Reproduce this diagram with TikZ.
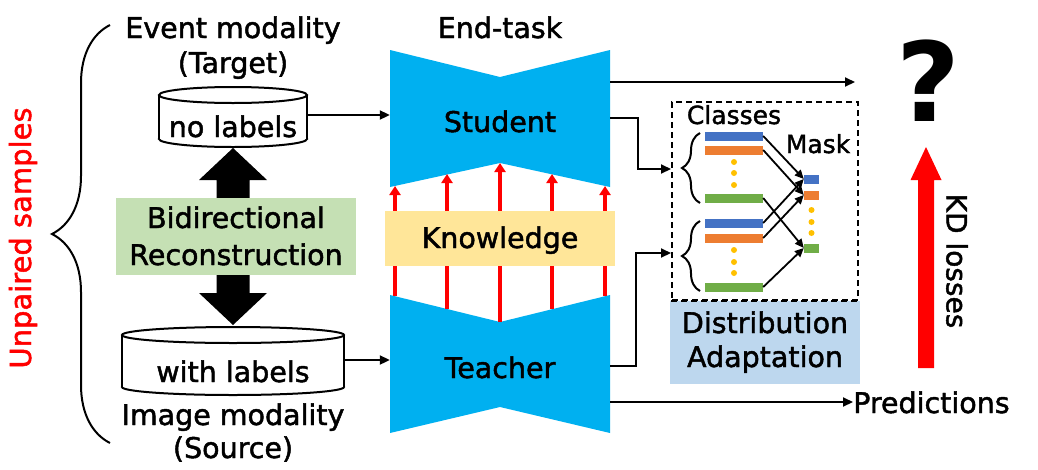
\documentclass[tikz,border=0pt]{standalone}
\usepackage{fontspec}
\setmainfont{DejaVu Sans}[FakeBold=1.6]
\newfontfamily\qfont{DejaVu Sans Bold}
\usetikzlibrary{arrows.meta,decorations.pathreplacing}
\definecolor{netblue}{HTML}{00B0F0}
\definecolor{boxgreen}{HTML}{C5E0B4}
\definecolor{boxyellow}{HTML}{FFE699}
\definecolor{boxblue}{HTML}{BDD7EE}
\definecolor{barblue}{HTML}{4472C4}
\definecolor{barorange}{HTML}{ED7D31}
\definecolor{bargreen}{HTML}{70AD47}
\definecolor{dotyellow}{HTML}{FFC000}
\definecolor{kdred}{HTML}{FF0000}
\begin{document}
\begin{tikzpicture}[x=1pt,y=-1pt,
  txt/.style={font=\fontsize{28.5}{36}\selectfont, anchor=base, inner sep=0pt},
  smalltxt/.style={font=\fontsize{25}{30}\selectfont, anchor=base, inner sep=0pt},
  conn/.style={line width=2pt, -{Triangle[length=10pt,width=9pt]}},
  thin/.style={line width=1.8pt, -{Triangle[length=9pt,width=8pt]}},
  knowarrow/.style={draw=kdred, line width=4pt, -{Triangle[length=9pt,width=11pt]}},
  cylline/.style={draw=black, line width=2pt, fill=white},
  bar/.style={inner sep=0pt, minimum height=9pt},
  dot/.style={circle, fill=dotyellow, inner sep=0pt, minimum size=6pt},
  hidden/.style={inner sep=0pt}]
\useasboundingbox (0,0) rectangle (1038,469);

% ---------- left brace and Unpaired samples ----------
\draw[line width=2pt, decorate, decoration={brace, amplitude=58pt}] (110,443) -- (110,25);
\node[font=\fontsize{29}{32}\selectfont, text=kdred, rotate=90, inner sep=0pt] (unp) at (23,238) {Unpaired samples};

% ---------- target cylinder ----------
\node[txt] (evt) at (233,38) {Event modality};
\node[txt] (tgt) at (233,73) {(Target)};
\draw[cylline] (233,139) ellipse [x radius=74, y radius=8];
\fill[white] (159,95) rectangle (307,139);
\draw[line width=2pt] (159,95) -- (159,139) (307,95) -- (307,139);
\draw[cylline] (233,95) ellipse [x radius=74, y radius=8];
\node[hidden, minimum width=148pt, minimum height=60pt] (cylT) at (233,117) {};
\node[txt] (nolab) at (233,137) {no labels};

% ---------- source cylinder ----------
\draw[cylline] (233,387) ellipse [x radius=111, y radius=8];
\fill[white] (122,335) rectangle (344,387);
\draw[line width=2pt] (122,335) -- (122,387) (344,335) -- (344,387);
\draw[cylline] (233,335) ellipse [x radius=111, y radius=8];
\node[hidden, minimum width=222pt, minimum height=68pt] (cylS) at (233,361) {};
\node[txt] (wlab) at (233,382) {with labels};
\node[txt] (img) at (233,425) {Image modality};
\node[txt] (src) at (233,458) {(Source)};

% ---------- bidirectional arrows ----------
\fill[black] (233,148) -- (267,180) -- (249.5,180) -- (249.5,200) -- (216.5,200) -- (216.5,180) -- (199,180) -- cycle;
\fill[black] (233,325) -- (267,293) -- (249.5,293) -- (249.5,273) -- (216.5,273) -- (216.5,293) -- (199,293) -- cycle;
\node[fill=boxgreen, minimum width=240pt, minimum height=77pt, inner sep=0pt] (bidir) at (236,236.5) {};
\node[txt] (bid1) at (236,228) {Bidirectional};
\node[txt] (bid2) at (236,265) {Reconstruction};

% ---------- student / teacher ----------
\node[txt] (endtask) at (500,38) {End-task};
\fill[netblue] (390,50) -- (500,77) -- (610,50) -- (610,187) -- (500,163) -- (390,187) -- cycle;
\fill[netblue] (390,295) -- (500,322) -- (610,295) -- (610,433) -- (500,407) -- (390,433) -- cycle;
\node[hidden, minimum width=220pt, minimum height=137pt] (stu) at (500,118.5) {};
\node[hidden, minimum width=220pt, minimum height=138pt] (tea) at (500,364) {};
\node[txt] (stutxt) at (500,132) {Student};
\node[txt] (teatxt) at (500,378) {Teacher};

% knowledge arrows
\coordinate (k1b) at (395,296); \coordinate (k1t) at (395,186);
\coordinate (k2b) at (447,309); \coordinate (k2t) at (447,174);
\coordinate (k3b) at (500,322); \coordinate (k3t) at (500,163);
\coordinate (k4b) at (552,309); \coordinate (k4t) at (552,174);
\coordinate (k5b) at (605,296); \coordinate (k5t) at (605,186);
\foreach \i in {1,...,5} {\draw[knowarrow] (k\i b) -- (k\i t);}
\node[fill=boxyellow, minimum width=230pt, minimum height=55pt, inner sep=0pt] (know) at (500,238.5) {};
\node[txt] (knowtxt) at (500,248) {Knowledge};

% input arrows
\draw[conn] (cylT.east |- 0,115) -- (stu.west |- 0,115);
\draw[conn] (cylS.east |- 0,360) -- (tea.west |- 0,360);

% ---------- distribution adaptation ----------
\node[draw, dashed, line width=2pt, dash pattern=on 6pt off 4pt, minimum width=186pt, minimum height=198pt, inner sep=0pt] (dabox) at (765,201) {};
\node[fill=boxblue, minimum width=190pt, minimum height=83pt, inner sep=0pt] (dadapt) at (765,342) {};
\draw[line width=2pt, dash pattern=on 6pt off 4pt] (dabox.south west) -- (dabox.south east);
\node[txt] (dist) at (765,333) {Distribution};
\node[txt] (adapt) at (765,367) {Adaptation};
\node[smalltxt] (classes) at (734,124) {Classes};
\node[smalltxt] (mask) at (818,153) {Mask};

% braces
\coordinate (ub) at (680,169);
\coordinate (lb) at (680,253);
\draw[line width=2pt, decorate, decoration={brace, amplitude=18pt}] (700,203) -- (700,133);
\draw[line width=2pt, decorate, decoration={brace, amplitude=18pt}] (700,291) -- (700,221);

% bars upper group
\node[bar, fill=barblue, minimum width=58pt] (ub1) at (734,136) {};
\node[bar, fill=barorange, minimum width=58pt] (uo1) at (734,150) {};
\node[dot] (ud1) at (734,162) {};
\node[dot] (ud2) at (734,173) {};
\node[dot] (ud3) at (734,185) {};
\node[bar, fill=bargreen, minimum width=58pt] (ug1) at (734,198) {};
% bars lower group
\node[bar, fill=barblue, minimum width=58pt] (lb1) at (734,223) {};
\node[bar, fill=barorange, minimum width=58pt] (lo1) at (734,238) {};
\node[dot] (ld1) at (734,250) {};
\node[dot] (ld2) at (734,262) {};
\node[dot] (ld3) at (734,273) {};
\node[bar, fill=bargreen, minimum width=58pt] (lg1) at (734,287) {};
% mask bars
\node[bar, fill=barblue, minimum width=15pt] (mb) at (811.5,179) {};
\node[bar, fill=barorange, minimum width=15pt] (mo) at (811.5,195) {};
\node[dot] (md1) at (811.5,210) {};
\node[dot] (md2) at (811.5,222) {};
\node[dot] (md3) at (811.5,233) {};
\node[bar, fill=bargreen, minimum width=15pt] (mg) at (811.5,248) {};

\draw[thin] (ub1.east) -- (mb.west);
\draw[thin] (uo1.east) -- (mo.west);
\draw[thin] (ug1.east) -- (mg.west);
\draw[thin] (lb1.east) -- (mb.west);
\draw[thin] (lo1.east) -- (mo.west);
\draw[thin] (lg1.east) -- (mg.west);

% connectors to DA box
\draw[conn] (stu.east |- 0,118) -- (638,118) |- (dabox.west |- ub);
\draw[conn] (tea.east |- 0,366) -- (636,366) |- (dabox.west |- lb);

% outputs
\coordinate (outS) at (855,82);
\draw[conn] (stu.east |- outS) -- (outS);
\node[txt, anchor=base west] (pred) at (853,413) {Predictions};
\draw[conn] (tea.east |- 0,402) -- (pred.west |- 0,402);

% ---------- KD losses ----------
\node[font=\qfont\fontsize{110}{120}\selectfont, inner sep=0pt] (qm) at (928,81) {?};
\fill[kdred] (926,147) -- (941.5,180) -- (934,180) -- (934,368) -- (918,368) -- (918,180) -- (910.5,180) -- cycle;
\node[font=\fontsize{28}{32}\selectfont, rotate=-90, inner sep=0pt] (kd) at (957,261) {KD losses};
\end{tikzpicture}
\end{document}
